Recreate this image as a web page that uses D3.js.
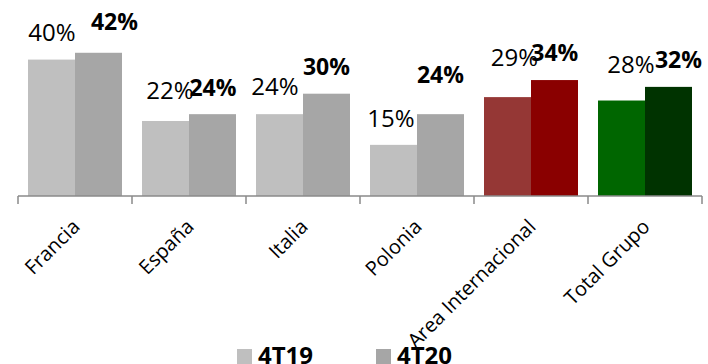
<!DOCTYPE html>
<html>
<head>
<meta charset="utf-8">
<script src="https://cdn.jsdelivr.net/npm/d3@7/dist/d3.min.js"></script>
<style>
  html, body { margin: 0; padding: 0; background: #ffffff; }
  svg { display: block; }
</style>
</head>
<body>
<div id="chart"></div>
<script>
// Data
const categories = ["Francia", "España", "Italia", "Polonia", "Area Internacional", "Total Grupo"];
const seriesNames = ["4T19", "4T20"];
const values4T19 = [40, 22, 24, 15, 29, 28];
const values4T20 = [42, 24, 30, 24, 34, 32];
const valueLabels4T19 = ["40%", "22%", "24%", "15%", "29%", "28%"];
const valueLabels4T20 = ["42%", "24%", "30%", "24%", "34%", "32%"];

// Per-bar fills (grey for countries, red for the international area, green for the group total)
const fill4T19 = ["#bfbfbf", "#bfbfbf", "#bfbfbf", "#bfbfbf", "#953735", "#006600"];
const fill4T20 = ["#a6a6a6", "#a6a6a6", "#a6a6a6", "#a6a6a6", "#8a0000", "#003300"];
const legendFill = ["#bfbfbf", "#a6a6a6"];

// Hand placed label nudges [dx, dy] relative to the top centre of each bar
const labelShift4T19 = [[0.5, -19], [4.5, -22], [-4.5, -19], [-2.5, -18], [7, -31], [9.5, -28]];
const labelShift4T20 = [[16, -23], [0.5, -18], [0, -19], [0, -31], [0.3, -19], [10, -19]];

const W = 708, H = 364;
const svg = d3.select("#chart").append("svg").attr("width", W).attr("height", H);

const axisY = 196;
const x = d3.scaleBand().domain(categories).range([18, 702]).paddingInner(0).paddingOuter(0);
const xs = d3.scaleBand().domain(seriesNames).range([0, x.bandwidth()]).paddingInner(0).paddingOuter(0.2128);
const y = d3.scaleLinear().domain([0, 50]).range([axisY, axisY - 170.5]);

const rows = categories.map((c, i) => ({
  cat: c,
  bars: [
    { s: "4T19", v: values4T19[i], fill: fill4T19[i], label: valueLabels4T19[i], shift: labelShift4T19[i] },
    { s: "4T20", v: values4T20[i], fill: fill4T20[i], label: valueLabels4T20[i], shift: labelShift4T20[i] }
  ]
}));

const groups = svg.selectAll("g.cat").data(rows).join("g")
  .attr("class", "cat")
  .attr("transform", d => `translate(${x(d.cat)},0)`);

groups.selectAll("rect").data(d => d.bars).join("rect")
  .attr("x", d => xs(d.s))
  .attr("y", d => y(d.v))
  .attr("width", xs.bandwidth())
  .attr("height", d => y(0) - y(d.v))
  .attr("fill", d => d.fill);

// Axis line with ticks between categories
const axisColor = "#8a8a8a";
svg.append("line")
  .attr("x1", x.range()[0]).attr("x2", x.range()[1])
  .attr("y1", axisY).attr("y2", axisY)
  .attr("stroke", axisColor).attr("stroke-width", 1.5);
const tickXs = categories.map(c => x(c)).concat([x.range()[1]]);
svg.selectAll("line.tick").data(tickXs).join("line")
  .attr("class", "tick")
  .attr("x1", d => d).attr("x2", d => d)
  .attr("y1", axisY).attr("y2", axisY + 8)
  .attr("stroke", axisColor).attr("stroke-width", 1.5);

// Value labels: 4T19 regular, 4T20 bold
groups.selectAll("text.val").data(d => d.bars).join("text")
  .attr("class", "val")
  .attr("x", d => xs(d.s) + xs.bandwidth() / 2 + d.shift[0])
  .attr("y", d => y(d.v) + d.shift[1])
  .attr("text-anchor", "middle")
  .attr("font-family", "'Open Sans', sans-serif")
  .attr("font-weight", d => d.s === "4T20" ? "bold" : "normal")
  .attr("font-size", d => d.s === "4T20" ? 23 : 24)
  .attr("fill", "#000")
  .text(d => d.label);

// Rotated category labels
svg.selectAll("text.cat").data(categories).join("text")
  .attr("class", "cat")
  .attr("transform", c => `translate(${x(c) + x.bandwidth() / 2 + 6},228) rotate(-45)`)
  .attr("text-anchor", "end")
  .attr("font-family", "'Open Sans', sans-serif")
  .attr("font-size", 20)
  .attr("fill", "#000")
  .text(c => c);

// Legend
const legendX = [237, 376];
const leg = svg.selectAll("g.leg").data(seriesNames).join("g")
  .attr("class", "leg")
  .attr("transform", (d, i) => `translate(${legendX[i]},349)`);
leg.append("rect").attr("width", 15).attr("height", 15).attr("fill", (d, i) => legendFill[i]);
leg.append("text")
  .attr("x", 21).attr("y", 14.5)
  .attr("font-family", "'Open Sans', sans-serif")
  .attr("font-weight", "bold")
  .attr("font-size", 24)
  .attr("fill", "#000")
  .text(d => d);
</script>
</body>
</html>
